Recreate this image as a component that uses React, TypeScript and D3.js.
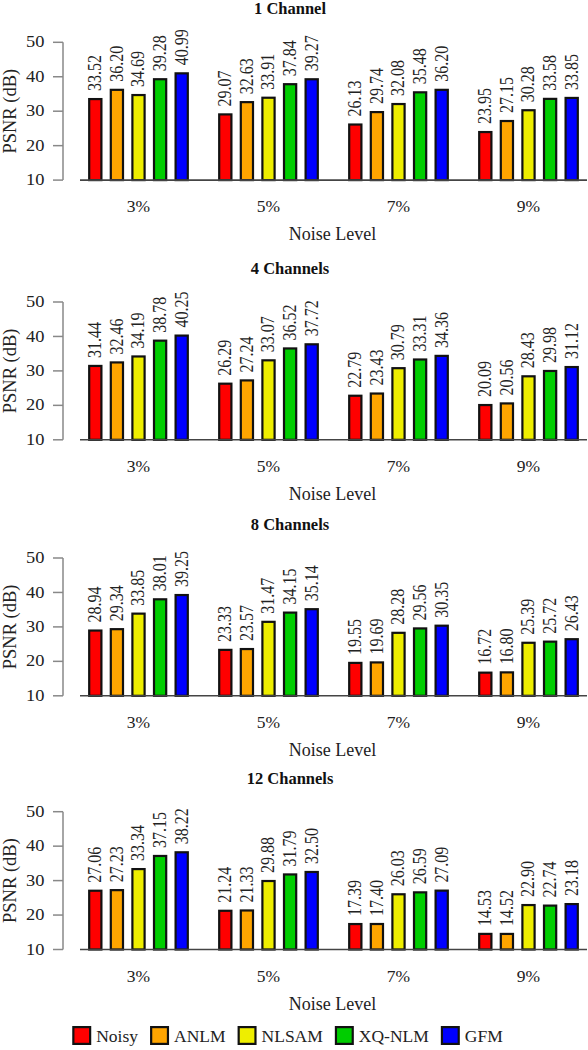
import React from "react";
import * as d3 from "d3";

const noiseLevels = ["3%", "5%", "7%", "9%"];
const methods = ["Noisy", "ANLM", "NLSAM", "XQ-NLM", "GFM"];
const methodColors = ["#FF0000", "#FFA500", "#EEEE00", "#00CD00", "#0000FF"];
const panelTitles = ["1 Channel", "4 Channels", "8 Channels", "12 Channels"];
const yTicks = [10, 20, 30, 40, 50];

// values[group][method]
const channel1 = [
  [33.52, 36.2, 34.69, 39.28, 40.99],
  [29.07, 32.63, 33.91, 37.84, 39.27],
  [26.13, 29.74, 32.08, 35.48, 36.2],
  [23.95, 27.15, 30.28, 33.58, 33.85],
];
const channel4 = [
  [31.44, 32.46, 34.19, 38.78, 40.25],
  [26.29, 27.24, 33.07, 36.52, 37.72],
  [22.79, 23.43, 30.79, 33.31, 34.36],
  [20.09, 20.56, 28.43, 29.98, 31.12],
];
const channel8 = [
  [28.94, 29.34, 33.85, 38.01, 39.25],
  [23.33, 23.57, 31.47, 34.15, 35.14],
  [19.55, 19.69, 28.28, 29.56, 30.35],
  [16.72, 16.8, 25.39, 25.72, 26.43],
];
const channel12 = [
  [27.06, 27.23, 33.34, 37.15, 38.22],
  [21.24, 21.33, 29.88, 31.79, 32.5],
  [17.39, 17.4, 26.03, 26.59, 27.09],
  [14.53, 14.52, 22.9, 22.74, 23.18],
];
const panels = [channel1, channel4, channel8, channel12];

const W = 588;
const H = 1050;
const panelTops = [42.3, 302, 558, 811.7];
const plotH = 137.8;
const FONT = "Liberation Serif, Times New Roman, serif";
const SX = 1.15;

const x0 = d3.scaleBand<string>().domain(noiseLevels).range([73.5, 593.5]);
const x1 = d3
  .scaleBand<string>()
  .domain(methods)
  .range([-54, 54])
  .paddingInner(0.333)
  .paddingOuter(0.1667);

function measure(text: string, font: string): number {
  if (typeof document === "undefined") return text.length * 9;
  const c = document.createElement("canvas");
  const ctx = c.getContext("2d");
  if (!ctx) return text.length * 9;
  ctx.font = font;
  return ctx.measureText(text).width;
}

function Panel({ data, title, top }: { data: number[][]; title: string; top: number }) {
  const y = d3.scaleLinear().domain([10, 50]).range([top + plotH, top]);
  const base = y(10);
  return (
    <g>
      <text
        x={290}
        y={top - 28}
        textAnchor="middle"
        fontFamily={FONT}
        fontWeight="bold"
        fontSize={16.5}
        fill="#111"
      >
        {title}
      </text>
      <line x1={63} x2={63} y1={y(10)} y2={y(50)} stroke="#888" strokeWidth={1.5} />
      {yTicks.map((t) => (
        <g key={t}>
          <line x1={53} x2={63} y1={y(t)} y2={y(t)} stroke="#888" strokeWidth={1.5} />
          <text
            transform={`translate(44.5,${y(t)}) scale(${SX},1)`}
            textAnchor="end"
            dominantBaseline="central"
            fontFamily={FONT}
            fontSize={16}
            fill="#222"
          >
            {t}
          </text>
        </g>
      ))}
      <text
        transform={`translate(10,${(y(10) + y(50)) / 2}) rotate(-90)`}
        textAnchor="middle"
        dominantBaseline="central"
        fontFamily={FONT}
        fontSize={18.5}
        fill="#222"
      >
        PSNR (dB)
      </text>
      {data.map((vals, gi) => {
        const gx = (x0(noiseLevels[gi]) as number) + x0.bandwidth() / 2;
        return (
          <g key={gi}>
            {vals.map((v, mi) => {
              const bx = gx + (x1(methods[mi]) as number);
              const bw = x1.bandwidth();
              const cx = bx + bw / 2;
              return (
                <g key={mi}>
                  <rect
                    x={bx + 1.1}
                    y={y(v)}
                    width={bw - 2.2}
                    height={base - y(v)}
                    fill={methodColors[mi]}
                    stroke="#111"
                    strokeWidth={2.2}
                  />
                  <text
                    transform={`translate(${cx},${y(v) - 8}) scale(${SX},1) rotate(-90)`}
                    textAnchor="start"
                    dominantBaseline="central"
                    fontFamily={FONT}
                    fontSize={16}
                    fill="#222"
                  >
                    {v.toFixed(2)}
                  </text>
                </g>
              );
            })}
            <text
              x={gx}
              y={base + 32}
              textAnchor="middle"
              fontFamily={FONT}
              fontSize={17.5}
              fill="#222"
            >
              {noiseLevels[gi]}
            </text>
          </g>
        );
      })}
      <line x1={80} x2={587} y1={base} y2={base} stroke="#444" strokeWidth={1.6} />
      <text
        x={332.5}
        y={base + 60}
        textAnchor="middle"
        fontFamily={FONT}
        fontSize={18}
        fill="#222"
      >
        Noise Level
      </text>
    </g>
  );
}

function Legend() {
  const fs = 17.5;
  const font = `${fs}px ${FONT}`;
  const box = 19;
  const gap = 5;
  const after = 12;
  const widths = methods.map((m) => measure(m, font));
  const total = widths.reduce((a, w) => a + box + gap + w + after, 0) - after;
  let x = 287.5 - total / 2;
  const items = methods.map((m, i) => {
    const ix = x;
    x += box + gap + widths[i] + after;
    return { m, i, ix };
  });
  const ty = 1026;
  return (
    <g>
      {items.map(({ m, i, ix }) => (
        <g key={m}>
          <rect
            x={ix + 1.1}
            y={ty + 1.1}
            width={box - 2.2}
            height={box - 2.2}
            fill={methodColors[i]}
            stroke="#111"
            strokeWidth={2.2}
          />
          <text x={ix + box + gap} y={ty + 16} fontFamily={FONT} fontSize={fs} fill="#222">
            {m}
          </text>
        </g>
      ))}
    </g>
  );
}

export default function App() {
  return (
    <svg
      width={W}
      height={H}
      viewBox={`0 0 ${W} ${H}`}
      style={{ position: "absolute", left: 0, top: 0, display: "block", background: "#fff" }}
    >
      <rect x={0} y={0} width={W} height={H} fill="#fff" />
      {panels.map((p, i) => (
        <Panel key={i} data={p} title={panelTitles[i]} top={panelTops[i]} />
      ))}
      <Legend />
    </svg>
  );
}
